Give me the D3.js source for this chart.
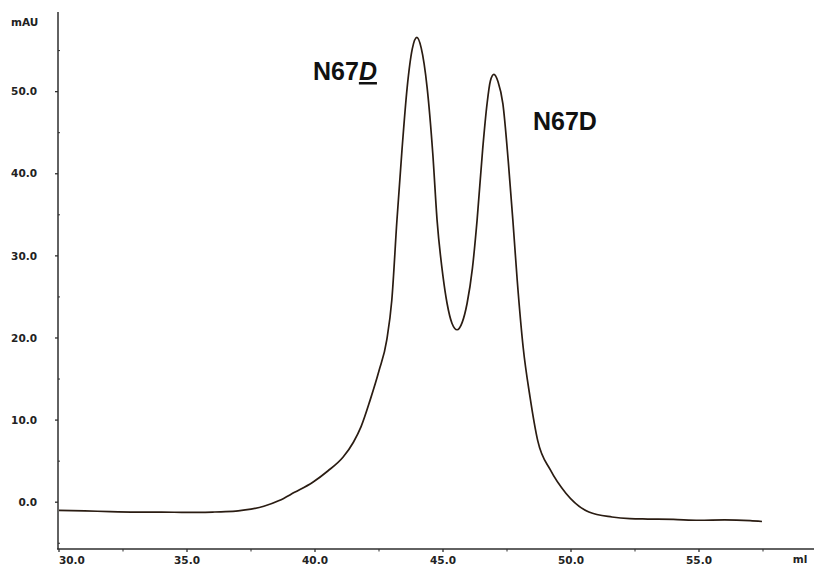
<!DOCTYPE html>
<html>
<head>
<meta charset="utf-8">
<script src="https://cdn.jsdelivr.net/npm/d3@7"></script>
<style>
body { margin: 0; background: #fff; }
svg { display: block; }
</style>
</head>
<body>
<svg id="chart"></svg>
<script>
//elution volume (ml) and absorbance (mAU)
var ml = [30, 31, 32, 33, 34, 35, 36, 36.5, 37, 37.5, 38, 38.6, 39.2, 39.9, 40.5, 41.1, 41.5, 41.8, 42.15, 42.5, 42.8, 43.0, 43.2, 43.4, 43.6, 43.8, 43.98, 44.15, 44.38, 44.6, 44.77, 45.0, 45.16, 45.35, 45.55, 45.75, 45.94, 46.15, 46.33, 46.55, 46.72, 46.85, 46.99, 47.15, 47.34, 47.55, 47.73, 47.9, 48.13, 48.4, 48.7, 49.2, 49.8, 50.7, 51.6, 52.3, 53, 54, 55, 56, 57, 57.46];
var mau = [-1.0, -1.05, -1.15, -1.2, -1.2, -1.25, -1.2, -1.15, -1.05, -0.85, -0.5, 0.2, 1.2, 2.4, 3.8, 5.5, 7.3, 9.2, 12.4, 16.0, 19.7, 24.6, 34.3, 43.0, 50.5, 55.2, 56.6, 55.3, 50.5, 42.5, 34.3, 27.5, 24.2, 21.8, 21.0, 21.9, 24.2, 28.5, 34.3, 43.0, 48.5, 51.3, 52.1, 51.2, 48.5, 41.5, 34.3, 27.0, 18.9, 12.8, 7.5, 3.9, 1.1, -1.2, -1.8, -2.0, -2.05, -2.1, -2.2, -2.15, -2.25, -2.35];

//tick labels
var xTicks = [30, 35, 40, 45, 50, 55];
var xMinor = [32.5, 37.5, 42.5, 47.5, 52.5, 57.5];
var yTicks = [0, 10, 20, 30, 40, 50];
var yMinor = [-5, 5, 15, 25, 35, 45, 55];

//peak labels
var peaks = [
	{name: "N67", tail: "D", x: 313, y: 80},
	{name: "N67D", tail: "", x: 533, y: 130}
];

//canvas info
var width = 814;
var height = 565;
var plotL = 58, plotR = 814, plotT = 12, plotB = 549;

var svg = d3.select("#chart").attr("width", width).attr("height", height);

var x = d3.scaleLinear().domain([30, 30 + (plotR - plotL) / 25.6]).range([plotL + 1, plotR + 1]);
var y = d3.scaleLinear().domain([-5.7, 59.7]).range([plotB, plotT]);

var ink = "#2e2e2e";
var tickFont = "DejaVu Sans, Verdana, sans-serif";

//y axis
var gy = svg.append("g").attr("transform", "translate(" + plotL + ",0)");
gy.append("line").attr("y1", plotT).attr("y2", plotB).attr("stroke", ink).attr("stroke-width", 1.5);
gy.selectAll(".maj").data(yTicks).enter().append("line")
	.attr("x1", -3).attr("x2", 0)
	.attr("y1", function(d){ return y(d); }).attr("y2", function(d){ return y(d); })
	.attr("stroke", ink).attr("stroke-width", 1.3);
gy.selectAll(".min").data(yMinor).enter().append("line")
	.attr("x1", 0).attr("x2", 2)
	.attr("y1", function(d){ return y(d); }).attr("y2", function(d){ return y(d); })
	.attr("stroke", ink).attr("stroke-width", 1);
gy.selectAll("text").data(yTicks).enter().append("text")
	.attr("x", -21).attr("y", function(d){ return y(d); })
	.attr("dy", "0.35em").attr("text-anchor", "end")
	.attr("font-family", tickFont).attr("font-weight", "bold").attr("font-size", 10.5)
	.attr("fill", "#222")
	.text(function(d){ return d.toFixed(1); });

svg.append("text").attr("x", 11).attr("y", 22).attr("dy", "0.35em")
	.attr("font-family", tickFont).attr("font-weight", "bold").attr("font-size", 10.5)
	.attr("fill", "#222").text("mAU");

//x axis
var gx = svg.append("g").attr("transform", "translate(0," + plotB + ")");
gx.append("line").attr("x1", plotL - 1).attr("x2", plotR).attr("stroke", ink).attr("stroke-width", 1.5);
gx.selectAll(".maj").data(xTicks).enter().append("line")
	.attr("x1", function(d){ return x(d); }).attr("x2", function(d){ return x(d); })
	.attr("y1", 0).attr("y2", 3)
	.attr("stroke", ink).attr("stroke-width", 1.3);
gx.selectAll(".min").data(xMinor).enter().append("line")
	.attr("x1", function(d){ return x(d); }).attr("x2", function(d){ return x(d); })
	.attr("y1", 0).attr("y2", 2.5)
	.attr("stroke", ink).attr("stroke-width", 1);
gx.selectAll("text").data(xTicks).enter().append("text")
	.attr("x", function(d){ return x(d); })
	.attr("y", 11).attr("dy", "0.35em")
	.attr("text-anchor", function(d, i){ return i == 0 ? "start" : "middle"; })
	.attr("font-family", tickFont).attr("font-weight", "bold").attr("font-size", 10.5)
	.attr("fill", "#222")
	.text(function(d){ return d.toFixed(1); });
gx.append("text").attr("x", 800).attr("y", 10).attr("dy", "0.35em").attr("text-anchor", "middle")
	.attr("font-family", tickFont).attr("font-weight", "bold").attr("font-size", 10.5)
	.attr("fill", "#222").text("ml");

//trace
var pts = [];
for (var i = 0; i < ml.length; i++) {
	pts.push({"x": ml[i], "y": mau[i]});
}
var line = d3.line()
	.x(function(d){ return x(d.x); })
	.y(function(d){ return y(d.y); })
	.curve(d3.curveMonotoneX);

svg.append("path").datum(pts)
	.attr("d", line)
	.attr("fill", "none")
	.attr("stroke", "#2a1c12")
	.attr("stroke-width", 1.7);

//peak labels
peaks.forEach(function(p){
	var t = svg.append("text").attr("x", p.x).attr("y", p.y)
		.attr("font-family", "Liberation Sans, Arial, sans-serif")
		.attr("font-weight", "bold").attr("font-size", 25).attr("fill", "#111");
	t.append("tspan").text(p.name);
	if (p.tail) {
		t.append("tspan").attr("font-style", "italic").attr("text-decoration", "underline").text(p.tail);
	}
});
</script>
</body>
</html>
